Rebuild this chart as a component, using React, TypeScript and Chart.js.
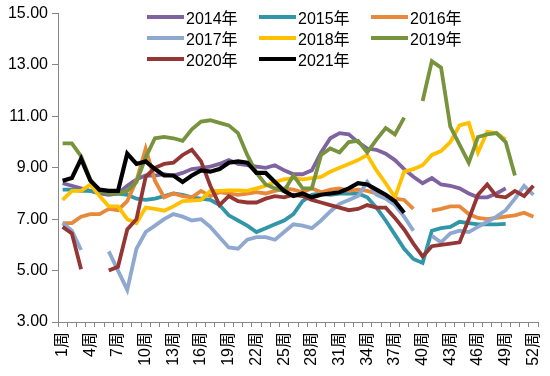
import React, { useEffect, useRef } from "react";
import { Chart, registerables } from "chart.js";

Chart.register(...registerables);

const weeks: string[] = Array.from({ length: 52 }, (_, i) => `${i + 1}周`);

const s2014 = [8.4, 8.3, 8.2, 8.1, 8.0, 7.95, 8.0, 8.3, 8.55, 8.7, 8.7, 8.75, 8.7, 8.8, 8.95, 9.0, 9.05, 9.15, 9.3, 9.15, 9.1, 9.05, 9.0, 9.1, 8.9, 8.75, 8.75, 8.9, 9.6, 10.15, 10.35, 10.3, 10.0, 9.75, 9.7, 9.55, 9.3, 8.95, 8.65, 8.4, 8.6, 8.35, 8.3, 8.2, 8.0, 7.85, 7.85, 8.0, 8.2, null, null, null];
const s2015 = [8.15, 8.15, 8.1, 8.1, 8.05, 8.05, 8.0, 7.95, 7.8, 7.75, 7.8, 7.9, 8.0, 7.95, 7.85, 7.8, 7.75, 7.55, 7.15, 6.95, 6.75, 6.5, 6.65, 6.8, 6.95, 7.2, 7.7, 7.95, 8.0, 7.95, 8.0, 8.0, 8.0, 7.85, 7.45, 6.95, 6.4, 5.85, 5.45, 5.3, 6.55, 6.65, 6.7, 6.9, 6.85, 6.8, 6.8, 6.8, 6.82, null, null, null];
const s2016 = [6.85, 6.85, 7.1, 7.2, 7.2, 7.4, 7.35, 7.7, 8.5, 9.75, 8.5, 7.85, 8.0, 7.9, 7.85, 8.1, 7.9, 8.05, 8.0, 7.95, 8.0, 8.05, 8.0, 8.1, 8.2, 8.15, 8.05, 8.2, 8.05, 8.15, 8.2, 8.1, 8.15, 8.1, 8.0, 7.85, 7.8, 7.75, 7.4, null, 7.33, 7.4, 7.5, 7.5, 7.2, 7.05, 7.0, 7.05, 7.1, 7.15, 7.25, 7.1];
const s2017 = [6.85, 6.55, 5.8, null, null, 5.75, 5.0, 4.25, 5.85, 6.5, 6.75, 7.0, 7.2, 7.1, 6.95, 7.0, 6.7, 6.3, 5.9, 5.85, 6.2, 6.3, 6.3, 6.2, 6.5, 6.8, 6.75, 6.65, 6.95, 7.3, 7.6, 7.75, 7.9, 8.45, 7.95, 7.8, 7.55, 7.1, 6.55, null, 6.35, 6.1, 6.45, 6.55, 6.5, 6.7, 6.9, 7.1, 7.35, 7.8, 8.3, 7.95];
const s2018 = [7.75, 8.1, 8.1, 8.35, 7.9, 7.5, 7.5, 7.0, 6.85, 7.45, 7.4, 7.33, 7.5, 7.7, 7.72, 7.75, 8.1, 8.1, 8.12, 8.12, 8.1, 8.2, 8.3, 8.45, 8.55, 8.6, 8.55, 8.6, 8.65, 8.85, 9.0, 9.15, 9.3, 9.5, 8.9, 8.4, 7.85, 8.85, 8.95, 9.1, 9.5, 9.65, 10.0, 10.65, 10.75, 9.6, 10.4, 10.35, 10.1, null, null, null];
const s2019 = [9.95, 9.95, 9.45, 8.55, 8.1, 8.0, 8.0, 8.1, 8.45, 9.4, 10.15, 10.2, 10.15, 10.05, 10.5, 10.8, 10.85, 10.75, 10.65, 10.35, 9.5, 8.8, 8.35, 8.2, 8.1, 8.7, 8.2, 8.2, 9.5, 9.75, 9.6, 10.0, 10.05, 9.6, 10.1, 10.55, 10.3, 10.95, null, 11.6, 13.15, 12.9, 10.6, 9.9, 9.2, 10.2, 10.3, 10.35, 10.0, 8.7, null, null];
const s2020 = [6.7, 6.45, 5.05, null, null, 5.0, 5.15, 6.6, 7.0, 8.65, 9.0, 9.15, 9.2, 9.5, 9.7, 9.25, 8.3, 7.55, 7.9, 7.7, 7.65, 7.65, 7.8, 7.9, 7.85, 7.95, 7.9, 7.75, 7.65, 7.55, 7.45, 7.35, 7.4, 7.55, 7.45, 7.45, 7.05, 6.6, 6.05, 5.55, 5.95, 6.0, 6.05, 6.1, 7.0, 7.95, 8.35, 7.9, 7.85, 8.1, 7.9, 8.3];
const s2021 = [8.5, 8.6, 9.35, 8.5, 8.15, 8.1, 8.1, 9.55, 9.15, 9.25, 8.95, 8.7, 8.7, 8.45, 8.7, 8.9, 8.85, 8.95, 9.2, 9.25, 9.2, 8.8, 8.8, 8.45, 8.1, 7.9, 8.0, 7.85, 7.95, 8.0, 8.05, 8.2, 8.4, 8.35, 8.15, 7.95, 7.7, 7.25, null, null, null, null, null, null, null, null, null, null, null, null, null, null];

const seriesNames = ["2014年", "2015年", "2016年", "2017年", "2018年", "2019年", "2020年", "2021年"];
const seriesData = [s2014, s2015, s2016, s2017, s2018, s2019, s2020, s2021];
const seriesColors = ["#7F63A1", "#3197A8", "#E8883A", "#8EA8D0", "#FFC000", "#77933C", "#943634", "#000000"];
const seriesWidths = [3.8, 3.8, 3.8, 3.8, 3.8, 3.8, 3.8, 4.2];

const yTicks = [3, 5, 7, 9, 11, 13, 15];

const FONT = '"Liberation Sans", "Noto Sans CJK SC", sans-serif';
const AXIS = "#868686";

export default function App() {
  const ref = useRef<HTMLCanvasElement | null>(null);

  useEffect(() => {
    if (!ref.current) return;
    const chart = new Chart(ref.current, {
      type: "line",
      data: {
        labels: weeks,
        datasets: seriesNames.map((name, i) => ({
          label: name,
          data: seriesData[i],
          borderColor: seriesColors[i],
          backgroundColor: seriesColors[i],
          borderWidth: seriesWidths[i],
          pointRadius: 0,
          tension: 0,
          spanGaps: false,
          order: seriesNames.length - i,
        })),
      },
      options: {
        animation: false,
        responsive: false,
        maintainAspectRatio: false,
        layout: { padding: { top: 10, right: 12, left: 0, bottom: 0 } },
        plugins: { legend: { display: false }, tooltip: { enabled: false } },
        scales: {
          x: {
            type: "category",
            offset: true,
            afterFit: (s: any) => {
              s.height = 54;
              s.paddingLeft = 0;
              s.paddingRight = 0;
            },
            border: { display: true, color: AXIS, width: 1 },
            grid: { display: true, offset: true, drawOnChartArea: false, drawTicks: true, tickLength: 5, color: AXIS },
            ticks: {
              autoSkip: false,
              maxRotation: 90,
              minRotation: 90,
              padding: 5,
              color: "#000",
              font: { family: FONT, size: 16 },
              callback: (_v: any, i: number) => (i % 3 === 0 ? weeks[i] : ""),
            },
          },
          y: {
            min: yTicks[0],
            max: yTicks[yTicks.length - 1],
            afterFit: (s: any) => {
              s.width = 58;
            },
            afterBuildTicks: (s: any) => {
              s.ticks = yTicks.map((v) => ({ value: v }));
            },
            border: { display: true, color: AXIS, width: 1 },
            grid: { display: true, drawOnChartArea: false, drawTicks: true, tickLength: 6, color: AXIS },
            ticks: {
              padding: 4,
              color: "#000",
              font: { family: FONT, size: 16 },
              callback: (v: any) => Number(v).toFixed(2),
            },
          },
        },
      },
    });
    return () => chart.destroy();
  }, []);

  return (
    <div style={{ position: "absolute", left: 0, top: 0, width: 550, height: 376, background: "#fff" }}>
      <canvas ref={ref} width={550} height={376} style={{ display: "block" }} />
      <div
        style={{
          position: "absolute",
          left: 147,
          top: 6,
          display: "grid",
          gridTemplateColumns: "112px 112px 112px",
          gridAutoRows: "21px",
          fontFamily: FONT,
          fontSize: 16,
          color: "#000",
        }}
      >
        {seriesNames.map((name, i) => (
          <div key={name} style={{ display: "flex", alignItems: "center", whiteSpace: "nowrap" }}>
            <span style={{ display: "inline-block", width: 37, height: 4, background: seriesColors[i], marginRight: 2 }} />
            <span>{name}</span>
          </div>
        ))}
      </div>
    </div>
  );
}
